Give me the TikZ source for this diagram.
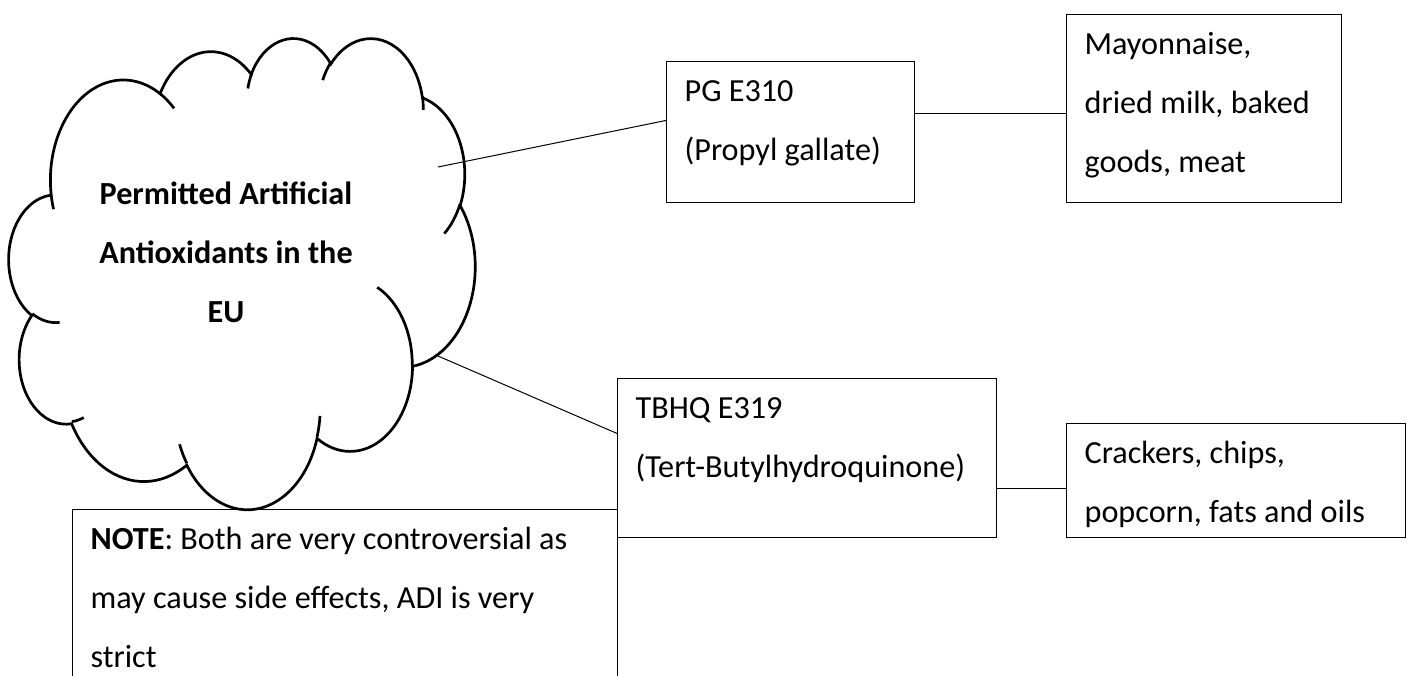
\documentclass[tikz,border=0pt]{standalone}
\usepackage{fontspec}
\setmainfont{Carlito}
\usetikzlibrary{calc}
\tikzset{
  foodbox/.style={draw, line width=0.6pt, anchor=north west, align=flush left,
    inner xsep=9pt, inner ysep=0pt, text height=19.7pt},
  link/.style={line width=0.5pt},
  puffline/.style={line width=1.35pt}
}

\begin{document}
\begin{tikzpicture}[x=0.5pt, y=-0.5pt, font=\fontsize{16.1}{29.5}\selectfont]
  \clip (0,0) rectangle (1412,675);
  % cloud outline, puffs one after another
  \begin{scope}[shift={(9,37)}, x=0.053935pt, y=-0.054514pt]
    \draw[puffline] (390,1437)
      arc[start angle=-187.746, delta angle=128.115, x radius=675.3, y radius=919]
      arc[start angle=-152.031, delta angle=106.580, x radius=533.3, y radius=726.7]
      arc[start angle=-153.497, delta angle=116.154, x radius=436.5, y radius=594.5]
      arc[start angle=-139.716, delta angle=129.505, x radius=485.7, y radius=659.5]
      arc[start angle=-74.768, delta angle=97.979, x radius=533.3, y radius=727.3]
      arc[start angle=-37.533, delta angle=119.395, x radius=677.5, y radius=922]
      arc[start angle=0.460, delta angle=121.519, x radius=578.5, y radius=786.7]
      arc[start angle=16.845, delta angle=129.379, x radius=675.2, y radius=921.5]
      arc[start angle=58.988, delta angle=91.207, x radius=772, y radius=1054.3]
      arc[start angle=83.306, delta angle=139.803, x radius=436, y radius=591.8]
      arc[start angle=120.355, delta angle=143.758, x radius=434.5, y radius=594.5]
      -- cycle;
    % short inner arcs where the puffs meet
    \draw[puffline] (469.3,2617.7) arc[start angle=85.547, delta angle=34.808, x radius=434.5, y radius=594.5];
    \draw[puffline] (692.8,3489.9) arc[start angle=68.235, delta angle=15.071, x radius=436, y radius=591.8];
    \draw[puffline] (1647.8,3909) arc[start angle=146.224, delta angle=12.250, x radius=675.2, y radius=921.5];
    \draw[puffline] (2882.7,3475.1) arc[start angle=4.738, delta angle=12.107, x radius=675.2, y radius=921.5];
    \draw[puffline] (3412.9,2295.4) arc[start angle=-64.026, delta angle=64.486, x radius=578.5, y radius=786.7];
    \draw[puffline] (4179.8,1535.4) arc[start angle=23.211, delta angle=26.431, x radius=533.3, y radius=727.3];
    \draw[puffline] (3832.4,542.6) arc[start angle=-10.211, delta angle=11.032, x radius=485.7, y radius=659.5];
    \draw[puffline] (2907.8,395.2) arc[start angle=-156.285, delta angle=16.569, x radius=485.7, y radius=659.5];
    \draw[puffline] (2214.1,472) arc[start angle=-167.721, delta angle=14.224, x radius=436.5, y radius=594.5];
    \draw[puffline] (1400,519.2) arc[start angle=-59.631, delta angle=13.910, x radius=675.3, y radius=919];
    \draw[puffline] (412.7,1578.9) arc[start angle=163.195, delta angle=9.059, x radius=675.3, y radius=919];
  \end{scope}
  \node[font=\fontsize{16.1}{29.5}\selectfont\bfseries, align=center] (eu) at (226,252)
    {Permitted Artificial\\Antioxidants in the\\EU};
  \coordinate (eupg) at (438,167);
  \coordinate (eutb) at (438,356);

  \node[foodbox, text width=106pt, text depth=50.8pt] (pg) at (666,61)
    {PG E310\\(Propyl gallate)};
  \node[foodbox, text width=119.5pt, text depth=74.3pt] (mayo) at (1066,14)
    {Mayonnaise,\\dried milk, baked\\goods, meat};
  \node[foodbox, text width=171.5pt, text depth=59.8pt] (tbhq) at (617,378)
    {TBHQ E319\\(Tert-Butylhydroquinone)};
  \node[foodbox, text width=151.5pt, text depth=37.3pt] (crack) at (1066,423)
    {Crackers, chips,\\popcorn, fats and oils};
  \node[foodbox, text width=254.5pt, text depth=76pt] (note) at (72,509)
    {\textbf{NOTE}: Both are very controversial as\\may cause side effects, ADI is very\\strict};

  \draw[link] (eupg) -- ($(pg.north west)!0.418!(pg.south west)$);
  \draw[link] (eutb) -- ($(tbhq.north west)!0.346!(tbhq.south west)$);
  \draw[link] ($(pg.north east)!0.369!(pg.south east)$) coordinate (pgout)
    -- (pgout -| mayo.west);
  \draw[link] ($(tbhq.north east)!0.692!(tbhq.south east)$) coordinate (tbout)
    -- (tbout -| crack.west);
\end{tikzpicture}
\end{document}
